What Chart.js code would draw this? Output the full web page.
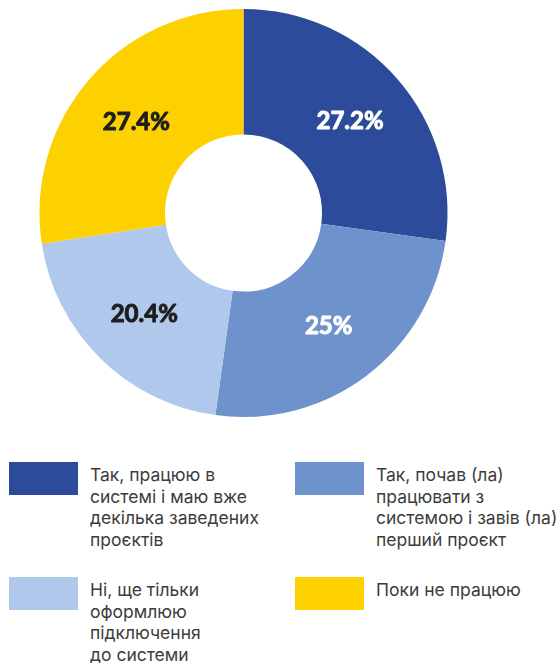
<!DOCTYPE html>
<html>
<head>
<meta charset="utf-8">
<script src="https://cdn.jsdelivr.net/npm/chart.js@4.4.0/dist/chart.umd.min.js"></script>
<style>
	html, body {
		margin: 0;
		padding: 0;
		background: #fff;
		width: 559px;
		height: 663px;
		overflow: hidden;
	}
	#chartBox {
		position: absolute;
		left: 0;
		top: 0;
		width: 487px;
		height: 426px;
	}
	#legend {
		position: absolute;
		left: 9px;
		top: 462px;
		display: grid;
		grid-template-columns: 286px auto;
		row-gap: 27px;
		font-family: Inter, 'Noto Sans', sans-serif;
		font-size: 17.5px;
		line-height: 21.5px;
		color: #3c3c3c;
	}
	.item {
		display: flex;
		align-items: flex-start;
	}
	.swatch {
		width: 69px;
		height: 33px;
		margin-right: 12px;
		flex: none;
	}
	.text {
		white-space: nowrap;
		margin-top: 2px;
	}
</style>
</head>
<body>
<div id="chartBox"><canvas id="donut"></canvas></div>
<div id="legend"></div>
<script>
// ----- ----- -----
// data
// ----- ----- -----

const labels = [
	['Так, працюю в', 'системі і маю вже', 'декілька заведених', 'проєктів'],
	['Так, почав (ла)', 'працювати з', 'системою і завів (ла)', 'перший проєкт'],
	['Ні, ще тільки', 'оформлюю', 'підключення', 'до системи'],
	['Поки не працюю']
];
const values = [27.2, 25, 20.4, 27.4];
const valueLabels = ['27.2%', '25%', '20.4%', '27.4%'];

const colors = ['#2d4b9b', '#6e93cc', '#afc8eb', '#fdd100'];
const labelColors = ['#ffffff', '#ffffff', '#1e1e1e', '#1e1e1e'];

// ----- ----- -----
// labels on the slices
// ----- ----- -----

const sliceLabels = {
	id: 'sliceLabels',
	afterDatasetsDraw(chart) {
		const ctx = chart.ctx;
		const meta = chart.getDatasetMeta(0);
		ctx.save();
		ctx.font = 'bold 24px Lato, "Open Sans", sans-serif';
		ctx.textAlign = 'center';
		ctx.textBaseline = 'middle';
		ctx.lineWidth = 1;
		ctx.lineJoin = 'round';
		meta.data.forEach((arc, i) => {
			const pos = arc.tooltipPosition();
			ctx.fillStyle = labelColors[i];
			ctx.strokeStyle = labelColors[i];
			// a thin stroke makes the bold face look heavier
			ctx.strokeText(valueLabels[i], pos.x, pos.y + 1);
			ctx.fillText(valueLabels[i], pos.x, pos.y + 1);
		});
		ctx.restore();
	}
};

const donut = new Chart('donut', {
	type: 'doughnut',
	data: {
		labels: labels,
		datasets: [{
			data: values,
			backgroundColor: colors,
			borderWidth: 0
		}]
	},
	options: {
		responsive: true,
		maintainAspectRatio: false,
		animation: false,
		cutout: '38.5%',
		layout: {
			padding: 9
		},
		plugins: {
			legend: {display: false},
			tooltip: {enabled: false}
		}
	},
	plugins: [sliceLabels]
});

// ----- ----- -----
// legend
// ----- ----- -----

const legend = document.getElementById('legend');
labels.forEach((label, i) => {
	let item = document.createElement('div');
	item.className = 'item';
	item.innerHTML = `<div class="swatch" style="background:${colors[i]}"></div><div class="text">${label.join('<br>')}</div>`;
	legend.appendChild(item);
});
</script>
</body>
</html>
